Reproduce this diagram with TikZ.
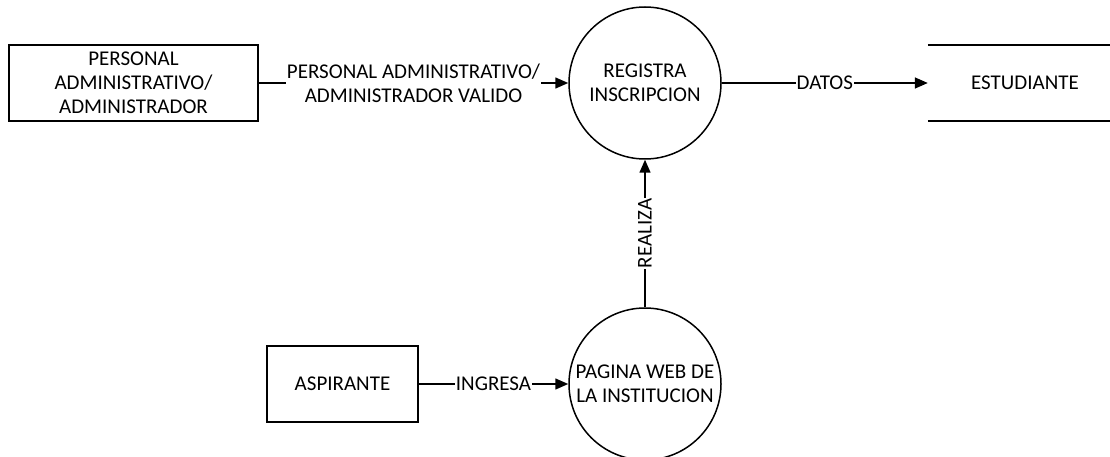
\documentclass[tikz,border=0pt]{standalone}
\usepackage{fontspec}
\setmainfont{Carlito}
\usetikzlibrary{arrows.meta}
\begin{document}
\begin{tikzpicture}[x=1pt,y=-1pt,
  every node/.style={font=\fontsize{21}{24}\selectfont, align=center, inner sep=0pt},
  entity/.style={draw, line width=1.5pt},
  proc/.style={draw, circle, line width=1.5pt, minimum size=152pt},
  flow/.style={line width=1.5pt, -{Triangle[length=13pt,width=11pt]}},
  lbl/.style={fill=white, inner sep=1pt}]
\useasboundingbox (0,0) rectangle (1110,457);
\node[entity, minimum width=249pt, minimum height=76pt] (admin) at (133.5,83) {PERSONAL\\ADMINISTRATIVO/\\ADMINISTRADOR};
\node[proc] (reg) at (645,83) {REGISTRA\\INSCRIPCION};
\node[proc] (web) at (645,384) {PAGINA WEB DE\\LA INSTITUCION};
\node[entity, minimum width=151pt, minimum height=76pt] (asp) at (342.5,384) {ASPIRANTE};
\node[minimum width=194pt, minimum height=76pt] (est) at (1025,83) {ESTUDIANTE};
\draw[line width=1.5pt] (est.north west) -- (est.north east);
\draw[line width=1.5pt] (est.south west) -- (est.south east);
\draw[flow] (admin.east) -- node[lbl]{PERSONAL ADMINISTRATIVO/\\ADMINISTRADOR VALIDO} (reg.west);
\draw[flow] (reg.east) -- node[lbl]{DATOS} (est.west);
\draw[flow] (web.north) -- node[lbl, rotate=90]{REALIZA} (reg.south);
\draw[flow] (asp.east) -- node[lbl]{INGRESA} (web.west);
\end{tikzpicture}
\end{document}
